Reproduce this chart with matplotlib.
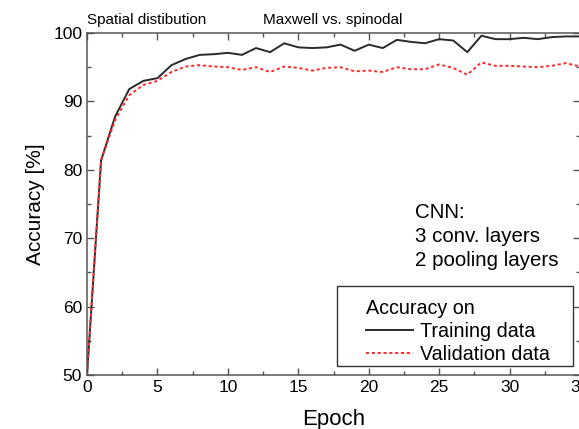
import matplotlib.pyplot as plt
from matplotlib.patches import Rectangle
from matplotlib.ticker import MultipleLocator

plt.rcParams['font.family'] = ['Liberation Sans', 'DejaVu Sans']

# valores
epocas = list(range(0, 36))
entrenamiento = [50.0, 81.4, 87.8, 91.8, 93.0, 93.4, 95.3, 96.2, 96.8, 96.9,
                 97.1, 96.8, 97.8, 97.2, 98.5, 97.9, 97.8, 97.9, 98.3, 97.4,
                 98.3, 97.8, 99.0, 98.7, 98.5, 99.1, 98.9, 97.2, 99.6, 99.1,
                 99.1, 99.3, 99.1, 99.4, 99.5, 99.5]
validacion = [50.0, 81.3, 87.3, 90.9, 92.4, 93.0, 94.3, 95.1, 95.3, 95.1,
              95.0, 94.6, 95.0, 94.3, 95.1, 94.9, 94.5, 94.9, 95.0, 94.4,
              94.5, 94.3, 95.0, 94.7, 94.7, 95.4, 94.9, 93.9, 95.7, 95.2,
              95.2, 95.1, 95.0, 95.2, 95.6, 95.1]

fig = plt.figure(figsize=(5.79, 4.29), dpi=100)
W, H = 579, 429
ax = fig.add_axes([87 / W, 1 - 375 / H, 493 / W, 342 / H])

ax.plot(epocas, entrenamiento, color='#2a2a2a', lw=1.4, label='Training data')
ax.plot(epocas, validacion, color='#ff2a2a', lw=1.4, ls=(0, (1.6, 1.4)),
        label='Validation data')

ax.set_xlim(0, 35)
ax.set_ylim(50, 100)
ax.xaxis.set_major_locator(MultipleLocator(5))
ax.xaxis.set_minor_locator(MultipleLocator(2.5))
ax.yaxis.set_major_locator(MultipleLocator(10))
ax.yaxis.set_minor_locator(MultipleLocator(5))
ax.tick_params(which='both', direction='in', top=True, right=True,
               color='#555555', labelsize=12.5)
ax.tick_params(which='major', length=5, width=1)
ax.tick_params(which='minor', length=3, width=1)
for s in ax.spines.values():
    s.set_color('#555555')
    s.set_linewidth(1.1)

ax.set_xlabel('Epoch', fontsize=16, labelpad=10)
ax.set_ylabel('Accuracy [%]', fontsize=15, labelpad=6)

fig.text(87 / W, 1 - 20 / H, 'Spatial distibution', fontsize=11,
         va='center', ha='left')
fig.text(263 / W, 1 - 20 / H, 'Maxwell vs. spinodal', fontsize=11,
         va='center', ha='left')

ax.text(0.665, 0.405, 'CNN:\n3 conv. layers\n2 pooling layers',
        transform=ax.transAxes, fontsize=14.8, va='center', ha='left',
        linespacing=1.33)

# caja de la leyenda dibujada aparte (mas margen a la izquierda)
ax.add_patch(Rectangle((0.507, 0.026), 0.479, 0.234, transform=ax.transAxes,
                       fill=True, facecolor='white', edgecolor='#333333',
                       lw=1.0, zorder=4))
leg = ax.legend(title='Accuracy on', loc='upper left',
                bbox_to_anchor=(0.546, 0.252), fontsize=14.2,
                title_fontsize=14.2, alignment='left', frameon=False,
                handlelength=2.4, handletextpad=0.35, borderpad=0,
                labelspacing=0.22)
leg.set_zorder(5)

fig.savefig('out.png', dpi=100)
